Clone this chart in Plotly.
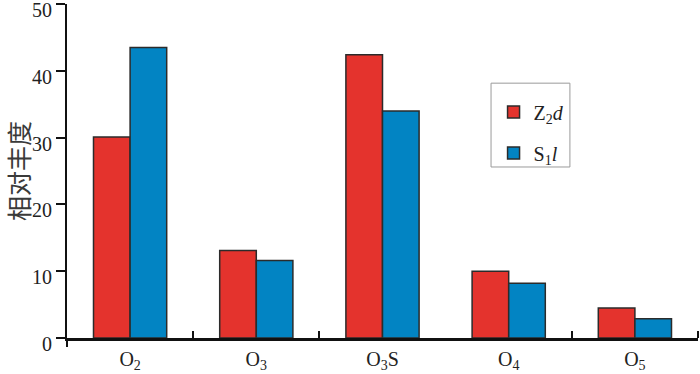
import plotly.graph_objects as go

categories = ["O<sub>2</sub>", "O<sub>3</sub>", "O<sub>3</sub>S", "O<sub>4</sub>", "O<sub>5</sub>"]
z2d_values = [30.1, 13.1, 42.4, 10.0, 4.5]
s1l_values = [43.5, 11.6, 34.0, 8.2, 2.9]
series_names = ["Z<sub>2</sub><i>d</i>", "S<sub>1</sub><i>l</i>"]
y_ticks = [0, 10, 20, 30, 40, 50]

x_pos = list(range(len(categories)))
serif = "Liberation Serif, Times New Roman, serif"

fig = go.Figure()
fig.add_trace(go.Bar(x=x_pos, y=z2d_values, name=series_names[0],
                     marker=dict(color="#E4332D", line=dict(color="#2b2b2b", width=1.5)),
                     legendgroup="a"))
fig.add_trace(go.Bar(x=x_pos, y=s1l_values, name=series_names[1],
                     marker=dict(color="#0284C3", line=dict(color="#2b2b2b", width=1.5)),
                     legendgroup="b"))

fig.update_layout(
    width=700, height=374,
    margin=dict(l=67, r=2, t=4, b=36, autoexpand=False),
    plot_bgcolor="white", paper_bgcolor="white",
    barmode="group", bargap=0.42, bargroupgap=0,
    legend=dict(x=0.676, y=0.735, xanchor="left", yanchor="top",
                borderwidth=0, bgcolor="rgba(0,0,0,0)",
                font=dict(family=serif, size=20, color="#222"),
                tracegroupgap=12, itemwidth=30),
    xaxis=dict(range=[-0.5, 4.5], tickmode="array", tickvals=x_pos, ticktext=categories,
               ticks="", showline=True, linecolor="#111", linewidth=2.5,
               showgrid=False, zeroline=False, automargin=False,
               tickfont=dict(family=serif, size=20, color="#222"),
               ticklabelstandoff=1, ticklabeloverflow="allow",
               minor=dict(tickmode="array", tickvals=[0.5, 1.5, 3.5, 4.5],
                          ticks="inside", ticklen=7, tickwidth=2, tickcolor="#111")),
    yaxis=dict(range=[0, 50], tickmode="array", tickvals=y_ticks,
               ticks="outside", ticklen=9, tickwidth=2, tickcolor="#111",
               showline=True, linecolor="#111", linewidth=2,
               showgrid=False, zeroline=False, automargin=False,
               ticklabelshift=6, ticklabeloverflow="allow",
               tickfont=dict(family=serif, size=20, color="#222"),
               title=dict(text="相对丰度", standoff=11,
                          font=dict(family="Noto Sans CJK SC", size=25, color="#3a3a3a"))),
    shapes=[dict(type="line", xref="paper", yref="paper", x0=0, x1=0, y0=0, y1=-0.027,
                 line=dict(color="#111", width=2)),
            dict(type="rect", xref="paper", yref="paper", x0=0.672, x1=0.797, y0=0.512, y1=0.763,
                 line=dict(color="#9a9a9a", width=1), fillcolor="rgba(0,0,0,0)", layer="above")],
)

fig.write_html("out.html", config={"displayModeBar": False},
               post_script="document.body.style.margin='0';document.body.style.padding='0';")
